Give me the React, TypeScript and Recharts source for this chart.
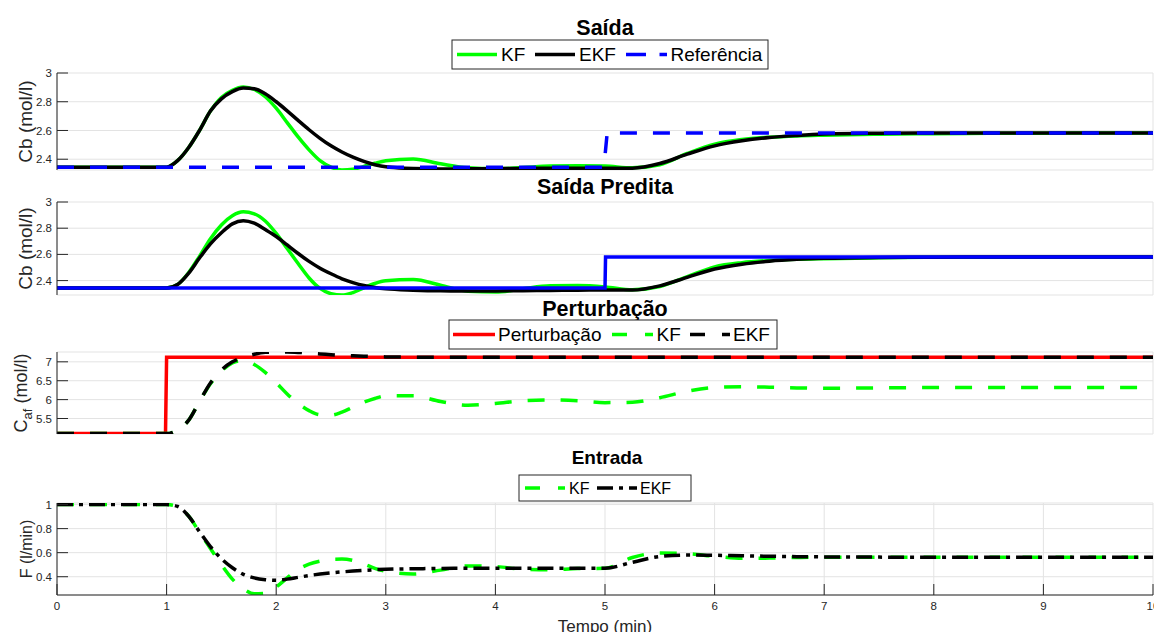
import React from 'react';
import { LineChart, Line, XAxis, YAxis, CartesianGrid } from 'recharts';

// ---------- data ----------
const T = [0, 0.5, 1.0, 1.1, 1.2, 1.3, 1.4, 1.5, 1.6, 1.7, 1.8, 1.9, 2.0, 2.1, 2.2, 2.3, 2.4, 2.5, 2.6, 2.7, 2.8, 2.9, 3.0,
  3.25, 3.5, 3.75, 4.0, 4.25, 4.5, 4.75, 5.0, 5.25, 5.5, 5.75, 6.0, 6.25, 6.5, 6.75, 7.0, 7.5, 8.0, 8.5, 9.0, 9.5, 10.0];

const SAIDA_KF = [2.345, 2.345, 2.345, 2.39, 2.48, 2.6, 2.735, 2.83, 2.88, 2.903, 2.885, 2.835, 2.755, 2.655, 2.555, 2.465, 2.39, 2.345, 2.325, 2.33, 2.35, 2.372, 2.39,
  2.402, 2.368, 2.34, 2.333, 2.342, 2.352, 2.355, 2.352, 2.34, 2.362, 2.44, 2.505, 2.537, 2.553, 2.562, 2.567, 2.574, 2.578, 2.58, 2.581, 2.582, 2.582];
const SAIDA_EKF = [2.345, 2.345, 2.345, 2.39, 2.48, 2.6, 2.735, 2.82, 2.87, 2.895, 2.89, 2.855, 2.8, 2.737, 2.67, 2.605, 2.545, 2.493, 2.45, 2.414, 2.385, 2.362, 2.347,
  2.335, 2.332, 2.333, 2.335, 2.336, 2.337, 2.338, 2.338, 2.338, 2.37, 2.435, 2.493, 2.528, 2.551, 2.565, 2.575, 2.581, 2.583, 2.583, 2.583, 2.583, 2.583];
const SAIDA_REF_T = [0, 4.99, 5.02, 10];
const SAIDA_REF = [2.345, 2.345, 2.583, 2.583];

const PRED_KF = [2.343, 2.343, 2.343, 2.37, 2.46, 2.585, 2.72, 2.825, 2.895, 2.925, 2.91, 2.855, 2.76, 2.645, 2.53, 2.42, 2.34, 2.3, 2.29, 2.308, 2.345, 2.378, 2.398,
  2.408, 2.365, 2.318, 2.312, 2.338, 2.36, 2.362, 2.352, 2.33, 2.355, 2.43, 2.505, 2.537, 2.553, 2.562, 2.567, 2.574, 2.578, 2.579, 2.58, 2.58, 2.58];
const PRED_EKF = [2.343, 2.343, 2.343, 2.37, 2.455, 2.572, 2.68, 2.765, 2.833, 2.857, 2.838, 2.79, 2.737, 2.672, 2.607, 2.547, 2.495, 2.452, 2.414, 2.385, 2.362, 2.347, 2.337,
  2.327, 2.322, 2.321, 2.321, 2.323, 2.325, 2.327, 2.328, 2.328, 2.36, 2.425, 2.488, 2.525, 2.548, 2.562, 2.57, 2.577, 2.579, 2.58, 2.58, 2.58, 2.58];
const PRED_REF_T = [0, 5.0, 5.005, 10];
const PRED_REF = [2.343, 2.343, 2.58, 2.58];

const PERT_T = [0, 0.99, 1.0, 10];
const PERT = [5.1, 5.1, 7.12, 7.12];
const CAF_KF = [5.1, 5.1, 5.1, 5.2, 5.45, 5.95, 6.42, 6.75, 6.97, 7.04, 6.93, 6.72, 6.45, 6.15, 5.9, 5.71, 5.6, 5.59, 5.67, 5.8, 5.93, 6.03, 6.1,
  6.1, 5.95, 5.85, 5.9, 5.97, 5.99, 5.97, 5.92, 5.93, 6.05, 6.22, 6.32, 6.34, 6.33, 6.31, 6.3, 6.31, 6.32, 6.32, 6.32, 6.32, 6.32];
const CAF_EKF = [5.1, 5.1, 5.1, 5.2, 5.45, 5.95, 6.44, 6.78, 7.0, 7.12, 7.2, 7.25, 7.26, 7.26, 7.25, 7.23, 7.21, 7.19, 7.17, 7.16, 7.15, 7.14, 7.13,
  7.125, 7.12, 7.12, 7.12, 7.12, 7.12, 7.12, 7.12, 7.12, 7.12, 7.12, 7.12, 7.12, 7.12, 7.12, 7.12, 7.12, 7.12, 7.12, 7.12, 7.12, 7.12];

const F_KF = [1.0, 1.0, 1.0, 0.985, 0.905, 0.77, 0.635, 0.5, 0.38, 0.3, 0.258, 0.262, 0.315, 0.39, 0.46, 0.505, 0.53, 0.545, 0.547, 0.535, 0.505, 0.47, 0.445,
  0.422, 0.455, 0.49, 0.485, 0.462, 0.458, 0.468, 0.47, 0.56, 0.598, 0.592, 0.57, 0.553, 0.555, 0.56, 0.562, 0.562, 0.562, 0.562, 0.562, 0.562, 0.562];
const F_EKF = [1.0, 1.0, 1.0, 0.985, 0.905, 0.775, 0.65, 0.55, 0.475, 0.42, 0.39, 0.375, 0.37, 0.38, 0.395, 0.41, 0.422, 0.432, 0.44, 0.447, 0.453, 0.458, 0.462,
  0.466, 0.469, 0.47, 0.471, 0.471, 0.471, 0.47, 0.47, 0.52, 0.568, 0.58, 0.578, 0.574, 0.57, 0.567, 0.565, 0.563, 0.562, 0.562, 0.562, 0.562, 0.562];

const X_TICKS = [0, 1, 2, 3, 4, 5, 6, 7, 8, 9, 10];
const Y_TICKS_CB = [2.4, 2.6, 2.8, 3];
const Y_TICKS_CAF = [5.5, 6, 6.5, 7];
const Y_TICKS_F = [0.4, 0.6, 0.8, 1];

const saidaData = T.map((t, i) => ({ t, kf: SAIDA_KF[i], ekf: SAIDA_EKF[i] }));
const saidaRef = SAIDA_REF_T.map((t, i) => ({ t, ref: SAIDA_REF[i] }));
const predData = T.map((t, i) => ({ t, kf: PRED_KF[i], ekf: PRED_EKF[i] }));
const predRef = PRED_REF_T.map((t, i) => ({ t, ref: PRED_REF[i] }));
const pertData = T.map((t, i) => ({ t, kf: CAF_KF[i], ekf: CAF_EKF[i] }));
const pertLine = PERT_T.map((t, i) => ({ t, p: PERT[i] }));
const fData = T.map((t, i) => ({ t, kf: F_KF[i], ekf: F_EKF[i] }));

// ---------- styling ----------
const FONT = '"Liberation Sans", Arial, Helvetica, sans-serif';
const AX = '#262626';
const GRID = '#e3e3e3';
const GREEN = '#00ff00';
const BLUE = '#0000ff';
const RED = '#ff0000';
const LW = 3.5;
const TICK_LEN = 11;

type PanelProps = {
  plotTop: number;
  plotBottom: number;
  yDomain: [number, number];
  yTicks: number[];
  data: any[];
  xLabels?: boolean;
  children: React.ReactNode;
};

function Panel({ plotTop, plotBottom, yDomain, yTicks, data, xLabels, children }: PanelProps) {
  const mTop = 5;
  const xAxisH = xLabels ? 30 : 0;
  const mBottom = xLabels ? 0 : 5;
  const h = plotBottom - plotTop + mTop + xAxisH + mBottom;
  const tickStyle = { fill: AX, fontSize: 11.5, fontFamily: FONT };
  return (
    <div style={{ position: 'absolute', left: 0, top: plotTop - mTop }}>
      <LineChart width={1154} height={h} data={data} margin={{ top: mTop, right: 1, bottom: mBottom, left: 0 }}>
        <CartesianGrid stroke={GRID} strokeWidth={1} />
        <XAxis dataKey="t" type="number" domain={[0, 10]} ticks={X_TICKS} interval={0} allowDataOverflow
          height={xAxisH} tickSize={-TICK_LEN} tickMargin={18}
          tick={xLabels ? tickStyle : false}
          axisLine={{ stroke: AX, strokeWidth: 1 }} tickLine={{ stroke: AX, strokeWidth: 1 }} />
        <XAxis xAxisId="top" orientation="top" dataKey="t" type="number" domain={[0, 10]} ticks={X_TICKS} interval={0}
          allowDataOverflow height={0} tickSize={-TICK_LEN} tick={false}
          axisLine={{ stroke: AX, strokeWidth: 1 }} tickLine={{ stroke: AX, strokeWidth: 1 }} />
        <YAxis type="number" domain={yDomain} ticks={yTicks} interval={0} allowDataOverflow width={57}
          tickSize={-TICK_LEN} tickMargin={16} tick={tickStyle}
          axisLine={{ stroke: AX, strokeWidth: 1 }} tickLine={{ stroke: AX, strokeWidth: 1 }} />
        <YAxis yAxisId="right" orientation="right" type="number" domain={yDomain} ticks={yTicks} interval={0}
          allowDataOverflow width={0} tickSize={-TICK_LEN} tick={false}
          axisLine={{ stroke: AX, strokeWidth: 1 }} tickLine={{ stroke: AX, strokeWidth: 1 }} />
        {children}
      </LineChart>
    </div>
  );
}

function LegendBox({ x, y, w, h, items, fontSize }: any) {
  return (
    <g>
      <rect x={x} y={y} width={w} height={h} fill="#fff" stroke={AX} strokeWidth={1} />
      {items.map((it: any, i: number) => (
        <g key={i}>
          <line x1={it.lx1} x2={it.lx2} y1={y + h / 2} y2={y + h / 2} stroke={it.color} strokeWidth={LW}
            strokeDasharray={it.dash} />
          <text x={it.tx} y={y + h / 2 + fontSize * 0.36} fontSize={fontSize} fontFamily={FONT} fill="#000">{it.label}</text>
        </g>
      ))}
    </g>
  );
}

export default function App() {
  return (
    <div style={{ position: 'absolute', left: 0, top: 0, width: 1154, height: 632, background: '#fff', overflow: 'hidden' }}>
      <Panel plotTop={73} plotBottom={170} yDomain={[2.325, 3]} yTicks={Y_TICKS_CB} data={saidaData}>
        <Line dataKey="kf" type="monotone" stroke={GREEN} strokeWidth={LW} dot={false} isAnimationActive={false} />
        <Line dataKey="ekf" type="monotone" stroke="#000" strokeWidth={LW} dot={false} isAnimationActive={false} />
        <Line data={saidaRef} dataKey="ref" type="linear" stroke={BLUE} strokeWidth={LW} strokeDasharray="17 16" dot={false} isAnimationActive={false} />
      </Panel>
      <Panel plotTop={202} plotBottom={295} yDomain={[2.29, 3]} yTicks={Y_TICKS_CB} data={predData}>
        <Line dataKey="kf" type="monotone" stroke={GREEN} strokeWidth={LW} dot={false} isAnimationActive={false} />
        <Line dataKey="ekf" type="monotone" stroke="#000" strokeWidth={LW} dot={false} isAnimationActive={false} />
        <Line data={predRef} dataKey="ref" type="linear" stroke={BLUE} strokeWidth={LW} dot={false} isAnimationActive={false} />
      </Panel>
      <Panel plotTop={352} plotBottom={434} yDomain={[5.09, 7.26]} yTicks={Y_TICKS_CAF} data={pertData}>
        <Line data={pertLine} dataKey="p" type="linear" stroke={RED} strokeWidth={LW} dot={false} isAnimationActive={false} />
        <Line dataKey="kf" type="monotone" stroke={GREEN} strokeWidth={LW} strokeDasharray="17 16" dot={false} isAnimationActive={false} />
        <Line dataKey="ekf" type="monotone" stroke="#000" strokeWidth={LW} strokeDasharray="17 16" dot={false} isAnimationActive={false} />
      </Panel>
      <Panel plotTop={503} plotBottom={595} yDomain={[0.248, 1.013]} yTicks={Y_TICKS_F} data={fData} xLabels>
        <Line dataKey="kf" type="monotone" stroke={GREEN} strokeWidth={LW} strokeDasharray="17 16" dot={false} isAnimationActive={false} />
        <Line dataKey="ekf" type="monotone" stroke="#000" strokeWidth={LW} strokeDasharray="16 6 4 6" dot={false} isAnimationActive={false} />
      </Panel>

      <svg width={1154} height={632} style={{ position: 'absolute', left: 0, top: 0, pointerEvents: 'none' }}>
        {/* titles */}
        <text x={605} y={35} textAnchor="middle" fontSize={21.5} fontWeight="bold" fontFamily={FONT} fill="#000">Saída</text>
        <text x={605} y={194} textAnchor="middle" fontSize={21.5} fontWeight="bold" fontFamily={FONT} fill="#000">Saída Predita</text>
        <text x={605} y={316} textAnchor="middle" fontSize={21.5} fontWeight="bold" fontFamily={FONT} fill="#000">Perturbação</text>
        <text x={607} y={464} textAnchor="middle" fontSize={19} fontWeight="bold" fontFamily={FONT} fill="#000">Entrada</text>

        {/* y labels */}
        <text transform="translate(31.5,121.5) rotate(-90)" textAnchor="middle" fontSize={19} fontFamily={FONT} fill={AX}>Cb (mol/l)</text>
        <text transform="translate(31.5,248.5) rotate(-90)" textAnchor="middle" fontSize={19} fontFamily={FONT} fill={AX}>Cb (mol/l)</text>
        <text transform="translate(26.5,393) rotate(-90)" textAnchor="middle" fontSize={18} fontFamily={FONT} fill={AX}>
          <tspan>C</tspan><tspan fontSize={13} dy={5}>af</tspan><tspan dy={-5}> (mol/l)</tspan>
        </text>
        <text transform="translate(32,549) rotate(-90)" textAnchor="middle" fontSize={16} fontFamily={FONT} fill={AX}>F (l/min)</text>

        {/* x label */}
        <text x={605} y={631.5} textAnchor="middle" fontSize={17} fontFamily={FONT} fill={AX}>Tempo (min)</text>

        {/* legends */}
        <LegendBox x={452} y={40} w={316} h={29} fontSize={19} items={[
          { lx1: 457, lx2: 497, color: GREEN, tx: 501, label: 'KF' },
          { lx1: 535, lx2: 575, color: '#000', tx: 579, label: 'EKF' },
          { lx1: 626, lx2: 667, color: BLUE, dash: '20 13.5', tx: 670.5, label: 'Referência' },
        ]} />
        <LegendBox x={449} y={320} w={328} h={29} fontSize={19} items={[
          { lx1: 453, lx2: 495, color: RED, tx: 498, label: 'Perturbação' },
          { lx1: 612, lx2: 653, color: GREEN, dash: '15 18', tx: 656.5, label: 'KF' },
          { lx1: 690, lx2: 730, color: '#000', dash: '15 17', tx: 733, label: 'EKF' },
        ]} />
        <LegendBox x={519} y={475} w={172} h={26} fontSize={16} items={[
          { lx1: 525, lx2: 565, color: GREEN, dash: '15 18', tx: 569, label: 'KF' },
          { lx1: 597, lx2: 637, color: '#000', dash: '16 6 4 6', tx: 640, label: 'EKF' },
        ]} />
      </svg>
    </div>
  );
}
